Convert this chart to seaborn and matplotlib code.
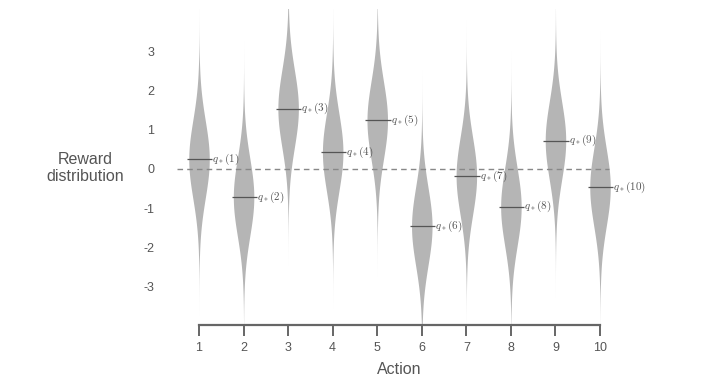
import numpy as np
import matplotlib
matplotlib.use("Agg")
import matplotlib.pyplot as plt
import seaborn as sns

# true action values q*(a)
actions = [1, 2, 3, 4, 5, 6, 7, 8, 9, 10]
q_star = [0.25, -0.72, 1.55, 0.43, 1.25, -1.47, -0.18, -0.97, 0.73, -0.47]
y_ticks = [-3, -2, -1, 0, 1, 2, 3]
sigma = 1.0  # reward noise, unit variance

sns.set_style("white")
plt.rcParams['font.family'] = ['Liberation Sans', 'DejaVu Sans']
plt.rcParams['mathtext.fontset'] = 'cm'

fig = plt.figure(figsize=(7.03, 3.82), dpi=100)
ax = fig.add_axes([0.2514, 0.1492, 0.6338, 0.827])

fill_col = "#b5b5b5"
line_col = "#555555"
text_col = "#555555"
half_w = 0.23

# reward distributions drawn as gaussian "violins"
for a, q in zip(actions, q_star):
    ys = np.linspace(q - 4 * sigma, q + 4 * sigma, 400)
    dens = np.exp(-0.5 * ((ys - q) / sigma) ** 2)
    ax.fill_betweenx(ys, a - half_w * dens, a + half_w * dens,
                     color=fill_col, linewidth=0)
    ax.hlines(q, a - 0.27, a + 0.3, color=line_col, linewidth=0.9)
    ax.text(a + 0.3, q, r'$q_*(%d)$' % a, fontsize=8, color=text_col,
            va='center', ha='left')

ax.axhline(0, xmin=0.0, xmax=0.97, color="#888888", linestyle=(0, (4, 3)),
           linewidth=1.0)

ax.set_xlim(0.5, 10.5)
ax.set_ylim(-4.0, 4.1)
ax.set_xticks(actions)
ax.set_yticks(y_ticks)
ax.set_yticklabels([str(t) for t in y_ticks])

sns.despine(ax=ax, left=True)
ax.spines['bottom'].set_bounds(1, 10)
ax.spines['bottom'].set_color("#666666")
ax.spines['bottom'].set_linewidth(1.6)

ax.tick_params(axis='x', direction='out', length=8, width=1.4, color="#666666",
               labelsize=9, labelcolor=text_col, pad=4, bottom=True)
ax.tick_params(axis='y', length=0, labelsize=9, labelcolor=text_col, pad=16)

ax.set_xlabel("Action", fontsize=11.5, color=text_col, labelpad=6)
fig.text(0.121, 0.56, "Reward\ndistribution", fontsize=11.5, color=text_col,
         ha='center', va='center', linespacing=1.1)

fig.savefig("out.png", dpi=100)
